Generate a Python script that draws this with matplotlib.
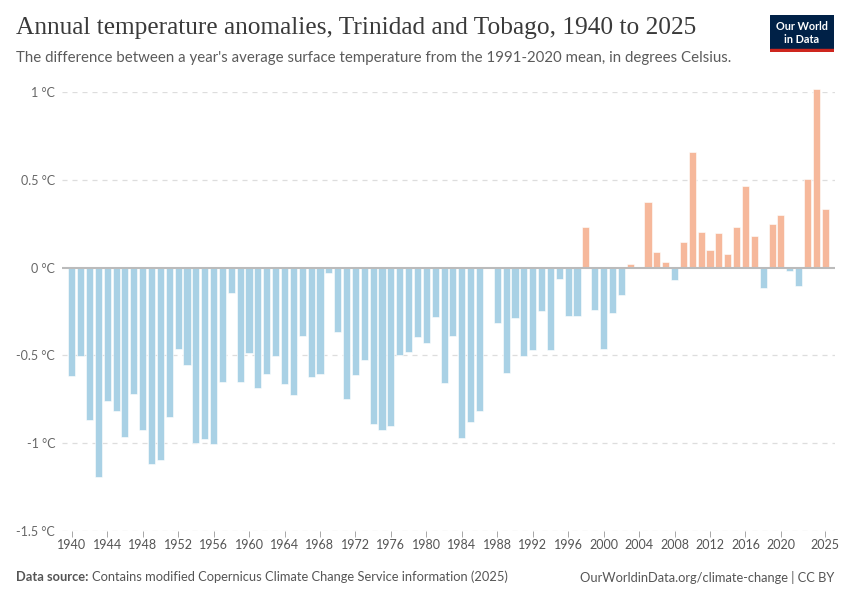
import matplotlib
matplotlib.use("Agg")
import matplotlib.pyplot as plt
from matplotlib.patches import Rectangle

years = list(range(1940, 2026))
anomalies = [
    -0.617, -0.503, -0.866, -1.19, -0.757, -0.816, -0.962, -0.718, -0.925, -1.118,  # 1940s
    -1.096, -0.851, -0.463, -0.556, -1.00, -0.974, -1.004, -0.649, -0.144, -0.651,  # 1950s
    -0.488, -0.683, -0.608, -0.505, -0.665, -0.727, -0.389, -0.623, -0.608, -0.030, # 1960s
    -0.367, -0.748, -0.613, -0.524, -0.889, -0.925, -0.902, -0.499, -0.480, -0.395, # 1970s
    -0.431, -0.283, -0.657, -0.389, -0.970, -0.877, -0.814, 0.0, -0.313, -0.600,    # 1980s
    -0.285, -0.505, -0.467, -0.249, -0.469, -0.065, -0.277, -0.276, 0.232, -0.243,  # 1990s
    -0.461, -0.256, -0.156, 0.020, 0.0, 0.374, 0.090, 0.031, -0.073, 0.145,         # 2000s
    0.661, 0.200, 0.101, 0.196, 0.075, 0.229, 0.464, 0.179, -0.115, 0.251,          # 2010s
    0.302, -0.020, -0.107, 0.503, 1.015, 0.334,                                     # 2020s
]
xtick_years = [1940, 1944, 1948, 1952, 1956, 1960, 1964, 1968, 1972, 1976, 1980,
               1984, 1988, 1992, 1996, 2000, 2004, 2008, 2012, 2016, 2020, 2025]
ytick_values = [-1.5, -1.0, -0.5, 0.0, 0.5, 1.0]
ytick_labels = ["-1.5 °C", "-1 °C", "-0.5 °C", "0 °C", "0.5 °C", "1 °C"]

BLUE = "#a9d1e5"
ORANGE = "#f6b89b"
GRAY = "#666666"

plt.rcParams['font.family'] = ['Lato', 'DejaVu Sans']

fig = plt.figure(figsize=(8.5, 6), dpi=100)
ax = fig.add_axes([62 / 850, 69 / 600, (835 - 62) / 850, (531 - 92) / 600])

colors = [ORANGE if v > 0 else BLUE for v in anomalies]
ax.bar(years, anomalies, width=0.8, color=colors, edgecolor="white", linewidth=0.4,
       clip_on=False, zorder=2)

ax.set_xlim(1938.9, 2026.1)
ax.set_ylim(-1.5, 1.0)

ax.set_yticks(ytick_values)
ax.set_yticklabels(ytick_labels)
ax.set_xticks(xtick_years)
ax.set_xticklabels([str(y) for y in xtick_years])

for v in ytick_values:
    if v != 0:
        ax.axhline(v, color="#dddddd", linestyle=(0, (4, 4)), linewidth=0.9, zorder=0)
ax.axhline(0, color="#bbbbbb", linewidth=1.5, zorder=3)

for s in ax.spines.values():
    s.set_visible(False)

ax.tick_params(axis="y", length=0, pad=5, labelsize=9, labelcolor=GRAY)
ax.tick_params(axis="x", length=4, width=0.6, color="#999999", pad=2,
               labelsize=9, labelcolor="#555555", direction="out")

# Title & subtitle
fig.text(16 / 850, 1 - 28 / 600, "Annual temperature anomalies, Trinidad and Tobago, 1940 to 2025",
         family=["Liberation Serif", "DejaVu Serif"], fontsize=18.3, color="#3a3a3a",
         va="center", ha="left")
fig.text(16 / 850, 1 - 58 / 600,
         "The difference between a year's average surface temperature from the 1991-2020 mean, in degrees Celsius.",
         fontsize=10.8, color="#5b5b5b", va="center", ha="left")

# Logo
logo_ax = fig.add_axes([770 / 850, 1 - 52 / 600, 64 / 850, 37 / 600])
logo_ax.set_xlim(0, 1)
logo_ax.set_ylim(0, 1)
logo_ax.axis("off")
logo_ax.add_patch(Rectangle((0, 0.08), 1, 0.92, color="#002147"))
logo_ax.add_patch(Rectangle((0, 0), 1, 0.08, color="#ce261e"))
logo_ax.text(0.5, 0.7, "Our World", color="white", fontsize=7.8, ha="center", va="center",
             fontweight="bold")
logo_ax.text(0.5, 0.34, "in Data", color="white", fontsize=7.8, ha="center", va="center",
             fontweight="bold")

# Footer
fs = 9.3
fig.text(16 / 850, 1 - 577 / 600, "Data source:", fontsize=fs, color="#555555",
         fontweight="bold", va="center", ha="left")
fig.text(92 / 850, 1 - 577 / 600,
         "Contains modified Copernicus Climate Change Service information (2025)",
         fontsize=fs, color="#555555", va="center", ha="left")
fig.text(834 / 850, 1 - 577 / 600, "OurWorldinData.org/climate-change | CC BY",
         fontsize=fs, color="#555555", va="center", ha="right")

fig.savefig("out.png", dpi=100)
